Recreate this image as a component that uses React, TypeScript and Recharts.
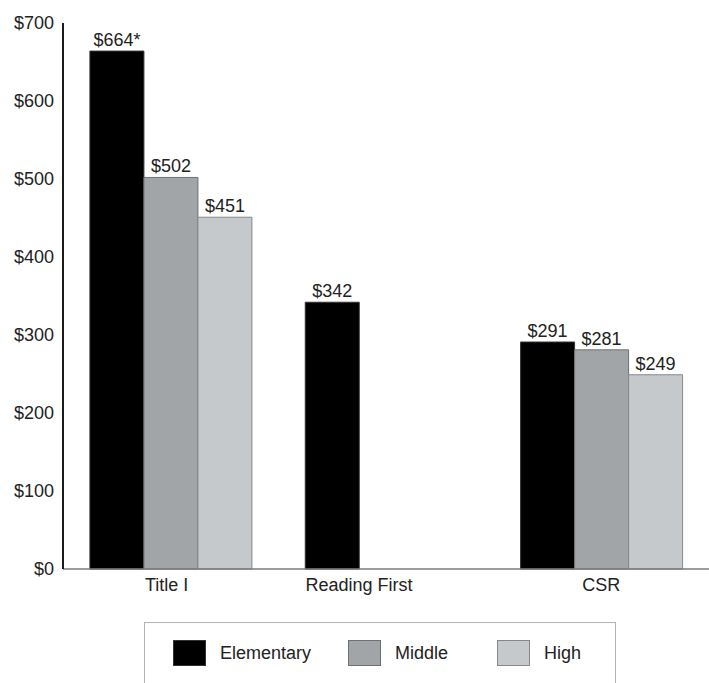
import { BarChart, Bar, XAxis, YAxis, LabelList, Legend } from "recharts";

const programs = ["Title I", "Reading First", "CSR"];
const elementary = [664, 342, 291];
const middle = [502, null, 281];
const high = [451, null, 249];
const elementaryNotes = ["*", "", ""];
const yTicks = [0, 100, 200, 300, 400, 500, 600, 700];

const series = [
  { key: "elementary", name: "Elementary", color: "#000000", stroke: "#333333" },
  { key: "middle", name: "Middle", color: "#a2a5a8", stroke: "#6e7073" },
  { key: "high", name: "High", color: "#c6c9cc", stroke: "#85888b" },
];

const data = programs.map((p, i) => ({
  program: p,
  elementary: elementary[i],
  middle: middle[i],
  high: high[i],
  note: elementaryNotes[i],
}));

const FONT = "'Liberation Sans', Arial, Helvetica, sans-serif";
const TEXT = "#222222";

function LegendBox() {
  return (
    <div
      style={{
        boxSizing: "border-box",
        width: 472,
        height: 75,
        border: "1.5px solid #b4b4b4",
        display: "flex",
        alignItems: "flex-start",
        paddingLeft: 28,
        paddingTop: 17,
        fontFamily: FONT,
        fontSize: 18,
        color: TEXT,
      }}
    >
      {series.map((s, i) => (
        <div
          key={s.key}
          style={{ display: "flex", alignItems: "center", marginLeft: i === 0 ? 0 : i === 1 ? 37 : 49 }}
        >
          <div
            style={{
              width: 33,
              height: 26,
              boxSizing: "border-box",
              background: s.color,
              border: `1px solid ${s.stroke}`,
              marginRight: 14,
            }}
          />
          <span>{s.name}</span>
        </div>
      ))}
    </div>
  );
}

function CategoryTick(props: any) {
  const { x, y, payload } = props;
  // the original places the lone-bar group's label a bit left of the band centre
  const shift = payload.value === "Reading First" ? -27 : payload.value === "Title I" ? -4 : 0;
  return (
    <text
      x={x + shift}
      y={y}
      dy={14}
      textAnchor="middle"
      fontSize={18}
      fontFamily={FONT}
      fill={TEXT}
    >
      {payload.value}
    </text>
  );
}

export default function App() {
  return (
    <div style={{ position: "absolute", left: 0, top: 0, width: 709, height: 683, overflow: "hidden", background: "#fff" }}>
      <BarChart
        width={709}
        height={683}
        data={data}
        margin={{ top: 23, right: 0, bottom: 84, left: 0 }}
        barCategoryGap="12.5%"
        barGap={0}
      >
        <XAxis
          dataKey="program"
          axisLine={{ stroke: "#7a7a7a", strokeWidth: 1.5 }}
          tickLine={false}
          tick={<CategoryTick />}
          height={30}
        />
        <YAxis
          domain={[0, 700]}
          ticks={yTicks}
          width={63}
          axisLine={{ stroke: "#1a1a1a", strokeWidth: 2 }}
          tickLine={false}
          tickSize={6}
          tickMargin={3}
          tickFormatter={(v) => `$${v}`}
          tick={{ fontSize: 18, fill: TEXT, fontFamily: FONT }}
          interval={0}
        />
        <Legend
          layout="horizontal"
          verticalAlign="middle"
          align="center"
          wrapperStyle={{ position: "absolute", left: 144, top: 622, width: 472 }}
          content={() => <LegendBox />}
        />
        {series.map((s) => (
          <Bar
            key={s.key}
            dataKey={s.key}
            name={s.name}
            fill={s.color}
            stroke={s.stroke}
            strokeWidth={1}
            isAnimationActive={false}
          >
            <LabelList
              dataKey={s.key}
              position="top"
              content={(p: any) => {
                if (p.value == null) return null;
                const note = s.key === "elementary" ? data[p.index]?.note ?? "" : "";
                return (
                  <text
                    x={p.x + p.width / 2}
                    y={p.y - 5}
                    textAnchor="middle"
                    fontSize={18}
                    fontFamily={FONT}
                    fill={TEXT}
                  >
                    {`$${p.value}${note}`}
                  </text>
                );
              }}
            />
          </Bar>
        ))}
      </BarChart>
    </div>
  );
}
